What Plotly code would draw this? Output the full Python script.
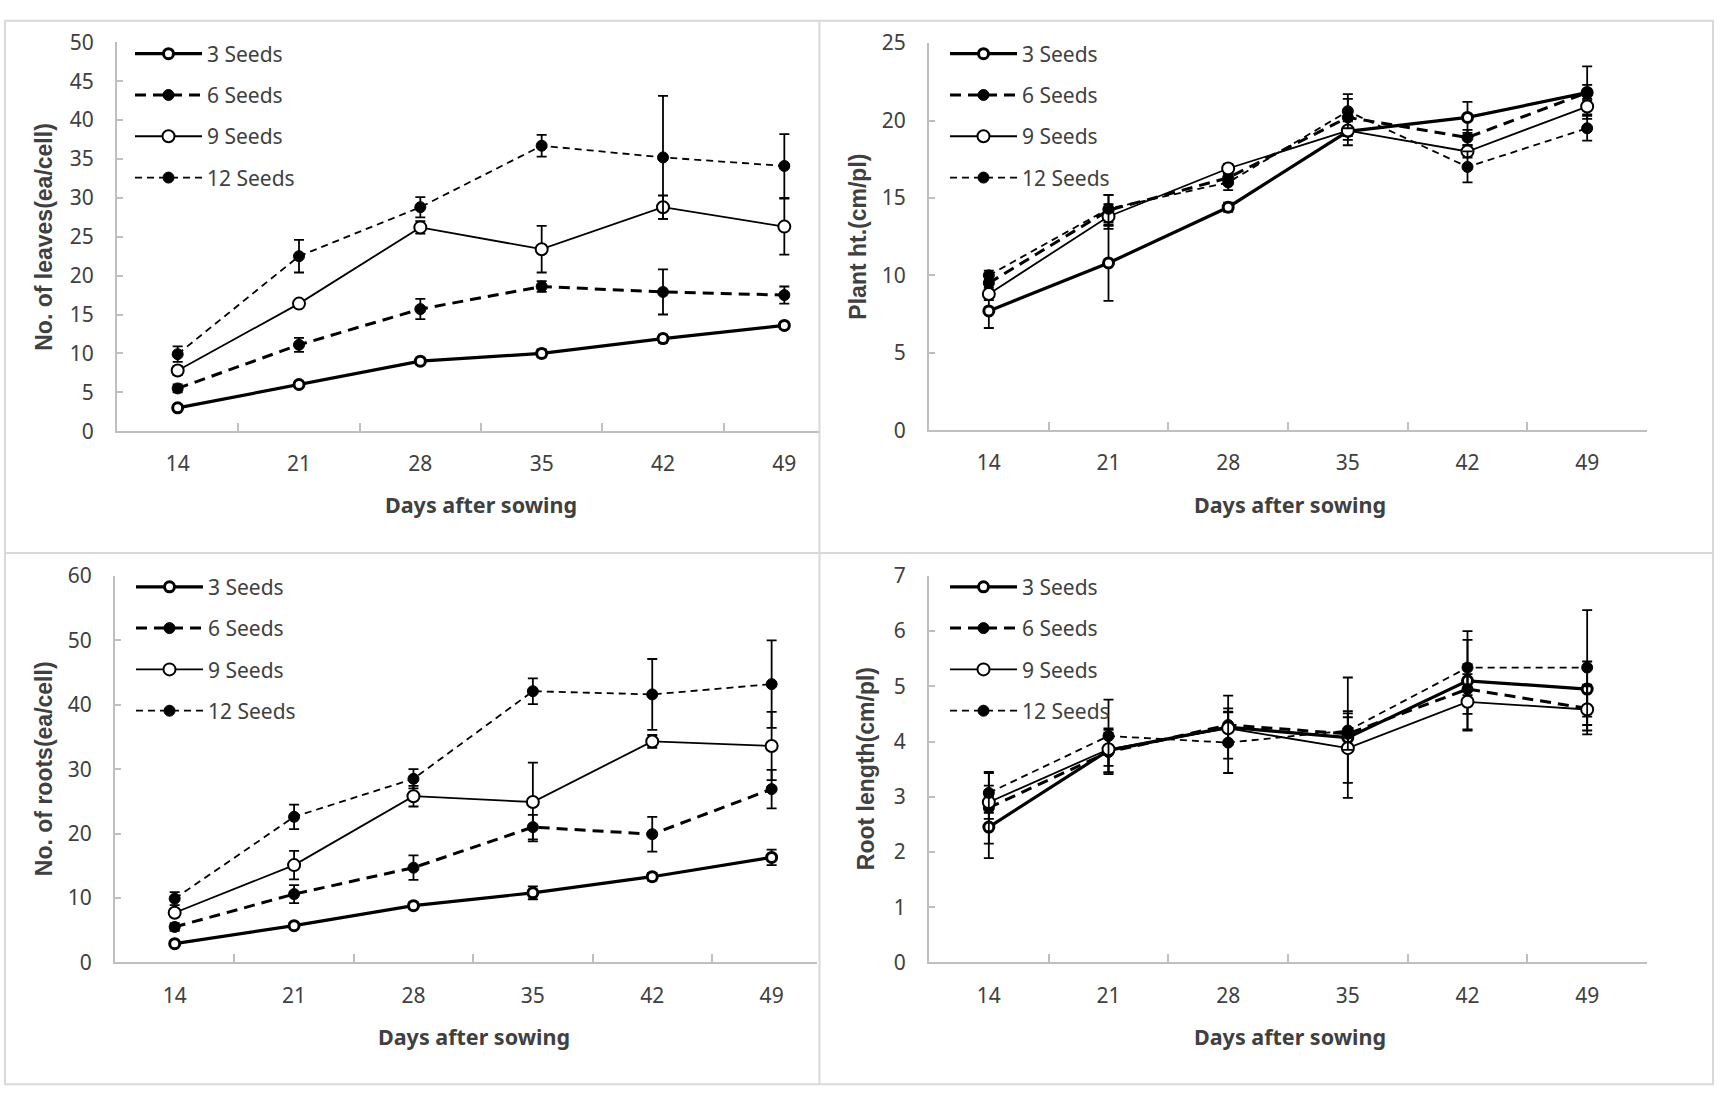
import plotly.graph_objects as go

W, H = 1721, 1105

days = [14, 21, 28, 35, 42, 49]
series_names = ["3 Seeds", "6 Seeds", "9 Seeds", "12 Seeds"]

# Panel 1: number of leaves
leaves_3 = [3.0, 6.0, 9.0, 10.0, 11.9, 13.6]
leaves_6 = [5.5, 11.1, 15.7, 18.6, 17.9, 17.5]
leaves_9 = [7.8, 16.4, 26.2, 23.4, 28.8, 26.3]
leaves_12 = [9.9, 22.5, 28.8, 36.7, 35.2, 34.1]
leaves_3_err = [0.3, 0.3, 0.4, 0.5, 0.5, 0.4]
leaves_6_err = [0.5, 0.9, 1.3, 0.7, 2.9, 1.1]
leaves_9_err = [0.6, 0.3, 0.8, 3.0, 1.5, 3.6]
leaves_12_err = [1.0, 2.1, 1.3, 1.4, 7.9, 4.1]

# Panel 2: plant height
height_3 = [7.7, 10.8, 14.4, 19.3, 20.2, 21.8]
height_6 = [9.5, 14.2, 16.3, 20.2, 18.9, 21.8]
height_9 = [8.8, 13.8, 16.9, 19.35, 18.0, 20.9]
height_12 = [10.0, 14.3, 16.0, 20.6, 17.0, 19.5]
height_3_err = [1.1, 2.45, 0.3, 0.9, 1.0, 1.7]
height_6_err = [0.5, 1.0, 0.4, 1.2, 0.5, 0.5]
height_9_err = [0.4, 0.8, 0.3, 0.6, 0.4, 0.5]
height_12_err = [0.3, 0.9, 0.5, 1.1, 1.0, 0.8]

# Panel 3: number of roots
roots_3 = [2.9, 5.7, 8.8, 10.8, 13.3, 16.3]
roots_6 = [5.5, 10.6, 14.7, 21.0, 19.9, 26.9]
roots_9 = [7.7, 15.1, 25.8, 24.9, 34.3, 33.6]
roots_12 = [9.9, 22.6, 28.5, 42.1, 41.6, 43.2]
roots_3_err = [0.3, 0.4, 0.5, 1.0, 0.6, 1.2]
roots_6_err = [0.6, 1.4, 1.9, 1.9, 2.7, 3.0]
roots_9_err = [0.6, 2.2, 1.6, 6.1, 1.0, 5.3]
roots_12_err = [1.0, 1.9, 1.5, 2.0, 5.5, 6.8]

# Panel 4: root length
rootlen_3 = [2.45, 3.84, 4.26, 4.07, 5.10, 4.95]
rootlen_6 = [2.80, 3.81, 4.30, 4.14, 4.95, 4.60]
rootlen_9 = [2.90, 3.86, 4.24, 3.88, 4.72, 4.58]
rootlen_12 = [3.07, 4.10, 3.98, 4.20, 5.34, 5.34]
rootlen_3_err = [0.56, 0.40, 0.57, 1.09, 0.90, 0.50]
rootlen_6_err = [0.65, 0.40, 0.30, 0.30, 0.45, 0.40]
rootlen_9_err = [0.30, 0.30, 0.30, 0.63, 0.50, 0.45]
rootlen_12_err = [0.36, 0.66, 0.55, 0.35, 0.50, 1.04]

y_titles = ["No. of leaves(ea/cell)", "Plant ht.(cm/pl)",
            "No. of roots(ea/cell)", "Root length(cm/pl)"]
x_title = "Days after sowing"

panels = [
    dict(vals=[leaves_3, leaves_6, leaves_9, leaves_12],
         errs=[leaves_3_err, leaves_6_err, leaves_9_err, leaves_12_err],
         ymax=50, dtick=5),
    dict(vals=[height_3, height_6, height_9, height_12],
         errs=[height_3_err, height_6_err, height_9_err, height_12_err],
         ymax=25, dtick=5),
    dict(vals=[roots_3, roots_6, roots_9, roots_12],
         errs=[roots_3_err, roots_6_err, roots_9_err, roots_12_err],
         ymax=60, dtick=10),
    dict(vals=[rootlen_3, rootlen_6, rootlen_9, rootlen_12],
         errs=[rootlen_3_err, rootlen_6_err, rootlen_9_err, rootlen_12_err],
         ymax=7, dtick=1),
]

# layout geometry in pixels: (left, right, top, bottom, x_range_end)
geom = [
    (117, 819, 28, 427, 51.0),
    (929, 1647, 28.8, 426, 52.5),
    (115, 817, 575.5, 972, 51.66),
    (929, 1647, 575.5, 972, 52.5),
]
legend_px = [(130, 19), (945, 19), (131, 566), (945, 566)]
ytitle_x = [44, 858, 44, 866]
xtitle_x = [481, 1290, 474, 1290]
xtitle_y = [502, 502, 1048, 1048]

styles = [
    dict(line=dict(color="black", width=3.2, dash="solid"),
         marker=dict(symbol="circle", size=10, color="white",
                     line=dict(color="black", width=3))),
    dict(line=dict(color="black", width=3, dash="11px,7px"),
         marker=dict(symbol="circle", size=11, color="black",
                     line=dict(color="black", width=1))),
    dict(line=dict(color="black", width=1.8, dash="solid"),
         marker=dict(symbol="circle", size=12, color="white",
                     line=dict(color="black", width=2))),
    dict(line=dict(color="black", width=1.8, dash="7px,5px"),
         marker=dict(symbol="circle", size=11, color="black",
                     line=dict(color="black", width=1))),
]

TXT = "#404040"
AX = "#bfbfbf"
FONT = "Noto Sans"
TITLE_FONT = "Liberation Sans"

fig = go.Figure()
layout = dict(width=W, height=H, margin=dict(l=0, r=0, t=0, b=0),
              paper_bgcolor="white", plot_bgcolor="white",
              font=dict(family=FONT, color=TXT), showlegend=True)

annotations = []
legend_names = ["legend", "legend2", "legend3", "legend4"]

for p, (panel, g) in enumerate(zip(panels, geom)):
    left, right, top, bottom, xend = g
    xa = "xaxis" if p == 0 else f"xaxis{p+1}"
    ya = "yaxis" if p == 0 else f"yaxis{p+1}"
    xr = "x" if p == 0 else f"x{p+1}"
    yr = "y" if p == 0 else f"y{p+1}"
    for s in range(4):
        fig.add_trace(go.Scatter(
            x=days, y=panel["vals"][s], name=series_names[s],
            mode="lines+markers", xaxis=xr, yaxis=yr,
            line=styles[s]["line"], marker=styles[s]["marker"],
            error_y=dict(type="data", array=panel["errs"][s], visible=True,
                         color="black", thickness=1.8, width=5),
            legend=legend_names[p], legendgroup=f"p{p}s{s}",
            cliponaxis=False,
        ))
    layout[xa] = dict(
        domain=[left / W, right / W], anchor=yr,
        range=[10.5, xend], tickmode="array", tickvals=days,
        ticks="", showline=True, linecolor=AX, linewidth=2,
        showgrid=False, zeroline=False,
        tickfont=dict(size=21, color=TXT, family=FONT),
        ticklabelstandoff=13,
        minor=dict(tickmode="array", tickvals=[17.5, 24.5, 31.5, 38.5, 45.5],
                   ticks="inside", ticklen=8, tickwidth=1.5, tickcolor=AX),
    )
    layout[ya] = dict(
        domain=[1 - bottom / H, 1 - top / H], anchor=xr,
        range=[0, panel["ymax"]], dtick=panel["dtick"], tick0=0,
        ticks="inside", ticklen=6, tickwidth=1.5, tickcolor=AX,
        showline=True, linecolor=AX, linewidth=2,
        showgrid=False, zeroline=False,
        tickfont=dict(size=21, color=TXT, family=FONT),
        ticklabelstandoff=17,
    )
    lx, ly = legend_px[p]
    layout[legend_names[p]] = dict(
        x=lx / W, y=1 - ly / H, xanchor="left", yanchor="top",
        bgcolor="rgba(0,0,0,0)", borderwidth=0, itemwidth=67,
        tracegroupgap=11, traceorder="grouped",
        font=dict(size=21, color=TXT, family=FONT),
        itemclick=False,
    )
    annotations.append(dict(
        text=f"<b>{y_titles[p]}</b>", x=ytitle_x[p] / W, y=1 - ((top + bottom) / 2) / H,
        xref="paper", yref="paper", showarrow=False, textangle=-90,
        font=dict(size=23, color=TXT, family=TITLE_FONT),
        xanchor="center", yanchor="middle"))
    annotations.append(dict(
        text=f"<b>{x_title}</b>", x=xtitle_x[p] / W, y=1 - xtitle_y[p] / H,
        xref="paper", yref="paper", showarrow=False,
        font=dict(size=21.5, color=TXT, family=FONT),
        xanchor="center", yanchor="middle"))

layout["annotations"] = annotations

FR = "#d9d9d9"
layout["shapes"] = [
    dict(type="rect", xref="paper", yref="paper", x0=5 / W, x1=1713 / W,
         y0=1 - 1097 / H, y1=1 - 6 / H, line=dict(color=FR, width=2)),
    dict(type="line", xref="paper", yref="paper", x0=819.5 / W, x1=819.5 / W,
         y0=1 - 1097 / H, y1=1 - 6 / H, line=dict(color=FR, width=2)),
    dict(type="line", xref="paper", yref="paper", x0=5 / W, x1=1713 / W,
         y0=1 - 552 / H, y1=1 - 552 / H, line=dict(color=FR, width=2)),
]

fig.update_layout(**layout)

post_js = (
    "document.documentElement.style.margin='0px';"
    "document.documentElement.style.overflow='hidden';"
    "document.body.style.margin='0px';document.body.style.padding='0px';"
    "document.body.style.overflow='hidden';"
    "var gd=document.getElementById('{plot_id}');"
    "gd.style.position='absolute';gd.style.left='0px';gd.style.top='0px';"
)
fig.write_html("out.html", config={"displayModeBar": False, "responsive": False},
               post_script=post_js)
